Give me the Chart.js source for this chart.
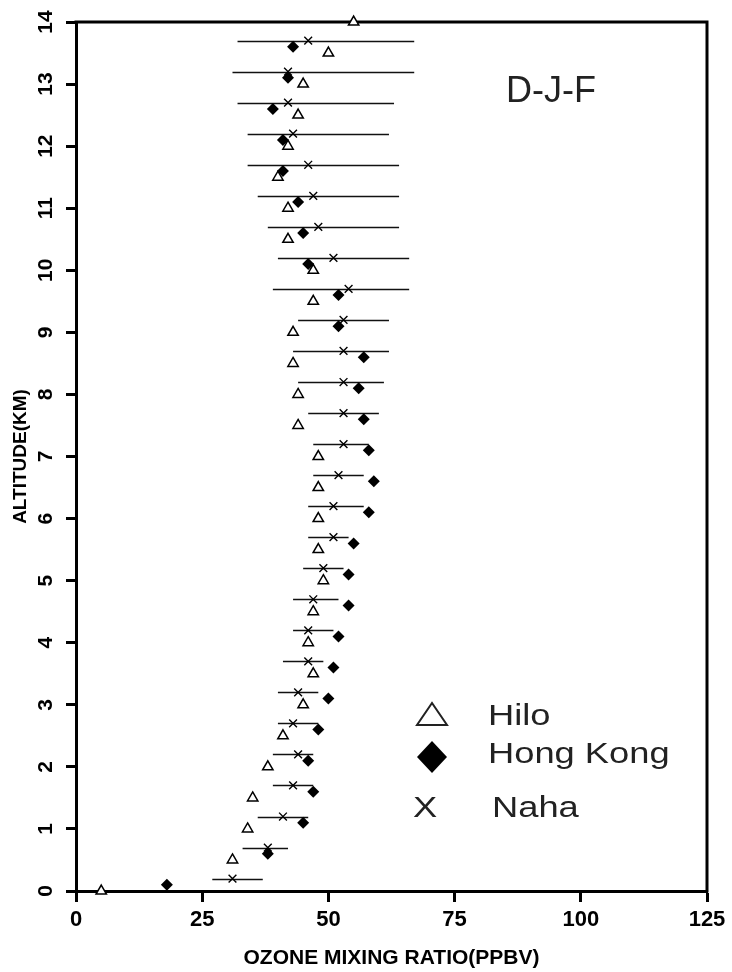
<!DOCTYPE html>
<html>
<head>
<meta charset="utf-8">
<script src="https://cdn.jsdelivr.net/npm/chart.js@4.4.1/dist/chart.umd.min.js"></script>
<style>
    html, body { margin: 0; padding: 0; background: #fff; }
</style>
</head>
<body>
<canvas id="myChart" width="732" height="972"></canvas>
<script>
// altitude levels (km) and ozone (ppbv)
const hiloAlt = [0, 0.5, 1, 1.5, 2, 2.5, 3, 3.5, 4, 4.5, 5, 5.5, 6, 6.5, 7, 7.5, 8, 8.5, 9, 9.5, 10, 10.5, 11, 11.5, 12, 12.5, 13, 13.5, 14];
const hiloO3 = [5, 31, 34, 35, 38, 41, 45, 47, 46, 47, 49, 48, 48, 48, 48, 44, 44, 43, 43, 47, 47, 42, 42, 40, 42, 44, 45, 50, 55];

const hkAlt = [0.1, 0.6, 1.1, 1.6, 2.1, 2.6, 3.1, 3.6, 4.1, 4.6, 5.1, 5.6, 6.1, 6.6, 7.1, 7.6, 8.1, 8.6, 9.1, 9.6, 10.1, 10.6, 11.1, 11.6, 12.1, 12.6, 13.1, 13.6];
const hkO3 = [18, 38, 45, 47, 46, 48, 50, 51, 52, 54, 54, 55, 58, 59, 58, 57, 56, 57, 52, 52, 46, 45, 44, 41, 41, 39, 42, 43];

const nahaAlt = [0.2, 0.7, 1.2, 1.7, 2.2, 2.7, 3.2, 3.7, 4.2, 4.7, 5.2, 5.7, 6.2, 6.7, 7.2, 7.7, 8.2, 8.7, 9.2, 9.7, 10.2, 10.7, 11.2, 11.7, 12.2, 12.7, 13.2, 13.7];
const nahaO3 = [31, 38, 41, 43, 44, 43, 44, 46, 46, 47, 49, 51, 51, 52, 53, 53, 53, 53, 53, 54, 51, 48, 47, 46, 43, 42, 42, 46];
const nahaLow = [27, 33, 36, 39, 39, 40, 40, 41, 43, 43, 45, 46, 46, 47, 47, 46, 44, 43, 44, 39, 40, 38, 36, 34, 34, 32, 31, 32];
const nahaHigh = [37, 42, 46, 47, 47, 48, 48, 49, 51, 52, 53, 54, 57, 57, 58, 60, 61, 62, 62, 66, 66, 64, 64, 64, 62, 63, 67, 67];

const yTicks = [0, 1, 2, 3, 4, 5, 6, 7, 8, 9, 10, 11, 12, 13, 14];
const legendLabels = ['Hilo', 'Hong Kong', 'Naha'];
const seasonLabel = 'D-J-F';

const FONT = '"Liberation Sans", Arial, Helvetica, sans-serif';

function toPoints(xs, ys) {
    return xs.map(function (v, i) { return { x: v, y: ys[i] }; });
}

// frame on top/right and the horizontal range bars for Naha
const errorBars = {
    id: 'errorBars',
    beforeDatasetsDraw(chart) {
        const ctx = chart.ctx;
        const a = chart.chartArea;
        const xs = chart.scales.x, ys = chart.scales.y;
        ctx.save();
        ctx.strokeStyle = '#000';
        ctx.lineWidth = 3;
        ctx.beginPath();
        ctx.moveTo(a.left - 1.5, a.top);
        ctx.lineTo(a.right, a.top);
        ctx.lineTo(a.right, a.bottom + 1.5);
        ctx.stroke();

        ctx.strokeStyle = '#111';
        ctx.lineWidth = 1.3;
        for (let i = 0; i < nahaAlt.length; i++) {
            const y = Math.round(ys.getPixelForValue(nahaAlt[i])) + 0.5;
            ctx.beginPath();
            ctx.moveTo(xs.getPixelForValue(nahaLow[i]), y);
            ctx.lineTo(xs.getPixelForValue(nahaHigh[i]), y);
            ctx.stroke();
        }
        ctx.restore();
    }
};

// rotated y labels, legend and season text
const decorations = {
    id: 'decorations',
    afterDraw(chart) {
        const ctx = chart.ctx;
        const ys = chart.scales.y;
        ctx.save();

        // y tick labels, reading bottom to top
        ctx.fillStyle = '#000';
        ctx.font = 'bold 21px ' + FONT;
        ctx.textAlign = 'center';
        ctx.textBaseline = 'middle';
        yTicks.forEach(function (t) {
            ctx.save();
            ctx.translate(45, ys.getPixelForValue(t));
            ctx.rotate(-Math.PI / 2);
            ctx.fillText(String(t), 0, 1);
            ctx.restore();
        });

        // season
        ctx.fillStyle = '#222';
        ctx.font = '36px ' + FONT;
        ctx.textAlign = 'left';
        ctx.textBaseline = 'alphabetic';
        ctx.fillText(seasonLabel, 506, 102);

        // legend
        ctx.strokeStyle = '#222';
        ctx.lineWidth = 2;
        ctx.beginPath();
        ctx.moveTo(417, 725);
        ctx.lineTo(447, 725);
        ctx.lineTo(432, 703);
        ctx.closePath();
        ctx.stroke();

        ctx.fillStyle = '#000';
        ctx.beginPath();
        ctx.moveTo(432, 741);
        ctx.lineTo(447, 757);
        ctx.lineTo(432, 773);
        ctx.lineTo(417, 757);
        ctx.closePath();
        ctx.fill();

        ctx.fillStyle = '#222';
        ctx.font = '30px ' + FONT;
        const rows = [[488, 725], [488, 763], [492, 817]];
        legendLabels.forEach(function (lbl, i) {
            ctx.save();
            ctx.translate(rows[i][0], rows[i][1]);
            ctx.scale(1.21, 1);
            ctx.fillText(lbl, 0, 0);
            ctx.restore();
        });
        ctx.save();
        ctx.translate(413, 817);
        ctx.scale(1.21, 1);
        ctx.fillText('X', 0, 0);
        ctx.restore();
        ctx.restore();
    }
};

const config = {
    type: 'scatter',
    data: {
        datasets: [
            {
                label: 'Hilo',
                data: toPoints(hiloO3, hiloAlt),
                pointStyle: 'triangle',
                pointRadius: 6,
                borderWidth: 1.5,
                borderColor: '#000',
                backgroundColor: '#fff',
                clip: false
            },
            {
                label: 'Hong Kong',
                data: toPoints(hkO3, hkAlt),
                pointStyle: 'rectRot',
                pointRadius: 6,
                borderWidth: 0,
                borderColor: '#000',
                backgroundColor: '#000',
                clip: false
            },
            {
                label: 'Naha',
                data: toPoints(nahaO3, nahaAlt),
                pointStyle: 'crossRot',
                pointRadius: 5.5,
                borderWidth: 1.4,
                borderColor: '#000',
                backgroundColor: '#000',
                clip: false
            }
        ]
    },
    options: {
        responsive: false,
        animation: false,
        events: [],
        layout: {
            padding: { top: 22, right: 25, left: 0, bottom: 0 }
        },
        plugins: {
            legend: { display: false },
            tooltip: { enabled: false }
        },
        scales: {
            x: {
                type: 'linear',
                min: 0,
                max: 125,
                afterFit: function (s) { s.height = 81; },
                ticks: {
                    stepSize: 25,
                    autoSkip: false,
                    maxRotation: 0,
                    padding: 5,
                    color: '#000',
                    font: { family: FONT, size: 22, weight: 'bold' }
                },
                grid: {
                    drawOnChartArea: false,
                    drawTicks: true,
                    tickLength: 11,
                    tickWidth: 3,
                    tickColor: '#000'
                },
                border: { display: true, width: 3, color: '#000' },
                title: {
                    display: true,
                    text: 'OZONE MIXING RATIO(PPBV)',
                    color: '#000',
                    padding: { top: 0, bottom: 1 },
                    font: { family: FONT, size: 21, weight: 'bold' }
                }
            },
            y: {
                type: 'linear',
                min: 0,
                max: 14,
                afterFit: function (s) { s.width = 76; },
                ticks: {
                    stepSize: 1,
                    display: false
                },
                grid: {
                    drawOnChartArea: false,
                    drawTicks: true,
                    tickLength: 10,
                    tickWidth: 3,
                    tickColor: '#000'
                },
                border: { display: true, width: 3, color: '#000' },
                title: {
                    display: true,
                    text: 'ALTITUDE(KM)',
                    color: '#000',
                    padding: { top: 9, bottom: 0 },
                    font: { family: FONT, size: 19, weight: 'bold' }
                }
            }
        }
    },
    plugins: [errorBars, decorations]
};

const myChart = new Chart(
    document.getElementById('myChart'),
    config
);
</script>
</body>
</html>
